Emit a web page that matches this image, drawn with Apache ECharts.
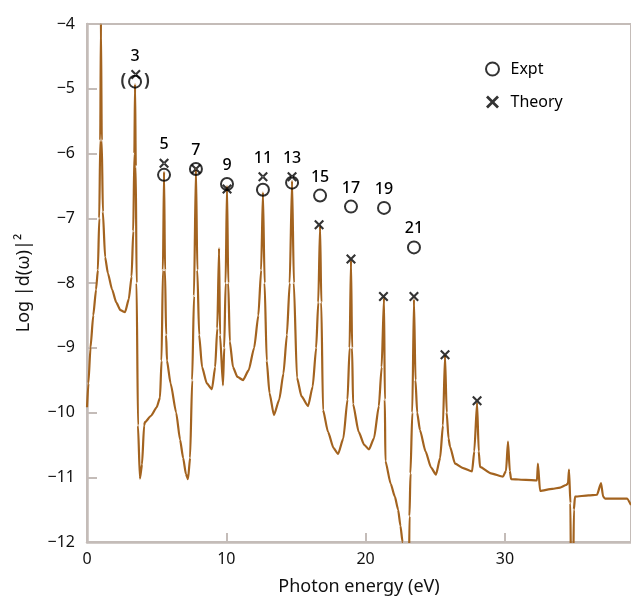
<!DOCTYPE html>
<html>
<head>
<meta charset="utf-8">
<script src="https://cdn.jsdelivr.net/npm/echarts@6/dist/echarts.min.js"></script>
<style>
html,body{margin:0;padding:0;background:#fff;}
#chart{width:631px;height:601px;}
</style>
</head>
<body>
<div id="chart"></div>
<script>
// Spectrum (photon energy in eV, log |d(w)|^2)
const specX = [0.00,0.10,0.25,0.45,0.65,0.78,0.88,0.95,1.00,1.06,1.14,1.30,1.50,1.80,2.10,2.40,2.73,3.00,3.20,3.32,3.40,3.45,3.50,3.56,3.66,3.80,3.95,4.10,4.16,4.60,5.00,5.24,5.35,5.45,5.53,5.60,5.68,5.74,6.00,6.40,6.68,6.90,7.10,7.25,7.40,7.55,7.68,7.82,7.92,8.05,8.26,8.60,8.97,9.20,9.35,9.48,9.55,9.76,9.85,9.95,10.05,10.14,10.25,10.48,10.80,11.20,11.60,12.00,12.30,12.50,12.63,12.75,12.90,13.10,13.42,13.80,14.10,14.35,14.55,14.72,14.85,15.07,15.40,15.87,16.20,16.45,16.60,16.73,16.82,16.94,17.30,17.70,18.02,18.40,18.70,18.85,18.95,19.03,19.10,19.50,19.90,20.24,20.60,20.95,21.15,21.32,21.38,21.42,21.80,22.10,22.33,22.50,22.65,22.70,23.10,23.15,23.22,23.35,23.47,23.58,23.70,23.90,24.30,24.70,25.05,25.35,25.55,25.70,25.82,25.95,26.06,26.42,27.00,27.64,27.80,28.00,28.12,28.21,29.00,29.86,30.08,30.22,30.35,30.44,31.50,32.30,32.37,32.52,33.40,33.96,34.40,34.53,34.60,34.70,34.75,34.89,34.95,35.03,36.00,36.61,36.90,37.05,37.19,38.76,39.05];
const specY = [-9.92,-9.55,-9.0,-8.5,-8.1,-7.8,-7.0,-5.8,-4.0,-5.8,-6.9,-7.6,-7.85,-8.1,-8.3,-8.42,-8.45,-8.25,-7.9,-7.2,-6.0,-4.93,-6.2,-8.0,-10.2,-11.02,-10.8,-10.2,-10.15,-10.05,-9.92,-9.77,-9.2,-7.8,-6.28,-7.8,-8.8,-9.2,-9.55,-10.0,-10.42,-10.7,-10.95,-11.03,-10.7,-9.5,-8.2,-6.22,-7.8,-8.8,-9.3,-9.55,-9.64,-9.3,-8.7,-7.46,-8.8,-9.58,-9.0,-8.0,-6.5,-8.0,-8.9,-9.3,-9.45,-9.5,-9.35,-9.0,-8.5,-7.8,-6.6,-8.0,-9.2,-9.7,-10.04,-9.8,-9.4,-8.8,-8.0,-6.42,-8.0,-9.46,-9.75,-9.9,-9.6,-9.0,-8.3,-7.12,-8.3,-9.96,-10.3,-10.55,-10.64,-10.4,-9.8,-9.0,-7.65,-9.0,-9.87,-10.3,-10.5,-10.57,-10.4,-9.9,-9.3,-8.23,-9.8,-10.75,-11.1,-11.3,-11.5,-11.75,-12.0,-12.8,-12.8,-11.6,-10.94,-10.0,-8.25,-9.5,-10.0,-10.27,-10.6,-10.85,-10.96,-10.7,-10.2,-9.12,-10.0,-10.4,-10.53,-10.79,-10.86,-10.91,-10.6,-9.85,-10.6,-10.84,-10.94,-10.99,-10.9,-10.45,-10.9,-11.03,-11.04,-11.05,-10.79,-11.21,-11.18,-11.16,-11.12,-11.09,-10.88,-11.4,-12.8,-12.8,-11.5,-11.3,-11.28,-11.27,-11.09,-11.3,-11.33,-11.33,-11.43];

// Harmonics
const harmonicOrder = [3, 5, 7, 9, 11, 13, 15, 17, 19, 21];
const harmonicX     = [3.45, 5.53, 7.82, 10.05, 12.63, 14.72, 16.73, 18.95, 21.32, 23.47];
const exptY         = [-4.89, -6.33, -6.24, -6.47, -6.56, -6.45, -6.65, -6.82, -6.84, -7.45];
const theoryX       = [3.50, 5.53, 7.82, 10.05, 12.63, 14.72, 16.66, 18.95, 21.28, 23.47, 25.70, 28.00];
const theoryY       = [-4.78, -6.15, -6.24, -6.55, -6.36, -6.36, -7.10, -7.63, -8.21, -8.21, -9.11, -9.82];
const bracketedOrders = [3];

const xTicks = [0, 10, 20, 30];
const yTicks = [-12, -11, -10, -9, -8, -7, -6, -5, -4];

const FONT = 'Noto Sans';
const TXT = '#111';
const AXIS = '#c4bcb8';
const BROWN = '#a3631f';
const CROSS = 'path://M0,1.5 L1.5,0 L5,3.5 L8.5,0 L10,1.5 L6.5,5 L10,8.5 L8.5,10 L5,6.5 L1.5,10 L0,8.5 L3.5,5 Z';

const spec = specX.map((x, i) => [x, specY[i]]);
const expt = harmonicX.map((x, i) => {
  const item = { value: [x, exptY[i]] };
  if (bracketedOrders.includes(harmonicOrder[i])) {
    item.label = { show: true, position: 'inside', formatter: '(    )', fontFamily: FONT, fontSize: 17, color: '#000', fontWeight: 'bold' };
  }
  return item;
});
const theory = theoryX.map((x, i) => [x, theoryY[i]]);
const labels = harmonicOrder.map((n, i) => {
  const ti = theoryX.findIndex(t => Math.abs(t - harmonicX[i]) < 0.2);
  const top = ti >= 0 ? Math.max(exptY[i], theoryY[ti]) : exptY[i];
  return { value: [harmonicX[i], top], name: String(n) };
});

const minus = v => (v < 0 ? '\u2212' + Math.abs(v) : String(v));

const chart = echarts.init(document.getElementById('chart'), null, { renderer: 'canvas' });
chart.setOption({
  animation: false,
  backgroundColor: '#fff',
  grid: { left: 87, top: 24, right: 0, bottom: 55, show: true, borderColor: AXIS, borderWidth: 2, backgroundColor: 'transparent' },
  legend: {
    data: ['Expt', 'Theory'],
    orient: 'vertical',
    left: 480, top: 56,
    itemWidth: 26, itemHeight: 13, itemGap: 17,
    textStyle: { fontFamily: FONT, fontSize: 16, color: '#000' }
  },
  xAxis: {
    type: 'value', min: 0, max: 39.05, interval: 10,
    name: 'Photon energy (eV)', nameLocation: 'middle', nameGap: 36,
    nameTextStyle: { fontFamily: FONT, fontSize: 18, color: TXT },
    axisLine: { lineStyle: { color: AXIS, width: 2.5 } },
    axisTick: { inside: true, length: 9, lineStyle: { color: AXIS, width: 2 }, customValues: xTicks },
    axisLabel: { fontFamily: FONT, fontSize: 16, color: TXT, margin: 9, customValues: xTicks, formatter: minus },
    splitLine: { show: false }
  },
  yAxis: {
    type: 'value', min: -12, max: -4, interval: 1,
    name: 'Log |d(\u03c9)|\u00b2', nameLocation: 'middle', nameGap: 54, nameRotate: 90,
    nameTextStyle: { fontFamily: FONT, fontSize: 18, color: TXT },
    axisLine: { lineStyle: { color: AXIS, width: 2.5 } },
    axisTick: { inside: true, length: 10, lineStyle: { color: AXIS, width: 2 }, customValues: yTicks },
    axisLabel: { fontFamily: FONT, fontSize: 16, color: TXT, margin: 12, customValues: yTicks, formatter: minus },
    splitLine: { show: false }
  },
  series: [
    {
      name: 'Spectrum', type: 'line', data: spec, showSymbol: false, symbol: 'none',
      smooth: 0.2, smoothMonotone: 'x',
      lineStyle: { color: BROWN, width: 2.2 }, clip: true, z: 2
    },
    {
      name: 'Expt', type: 'scatter', data: expt, symbol: 'circle', symbolSize: 12,
      itemStyle: { color: 'rgba(0,0,0,0)', borderColor: '#000', borderWidth: 2 }, z: 3
    },
    {
      name: 'Theory', type: 'scatter', data: theory, symbol: CROSS, symbolSize: 10,
      itemStyle: { color: '#000' }, z: 4
    },
    {
      name: 'Order', type: 'scatter', data: labels, symbolSize: 1,
      itemStyle: { color: '#fff', opacity: 1 }, z: 5,
      label: { show: true, position: 'top', distance: 10, formatter: p => p.name, fontFamily: FONT, fontSize: 16, color: '#000', fontWeight: 500 }
    }
  ]
});
</script>
</body>
</html>
